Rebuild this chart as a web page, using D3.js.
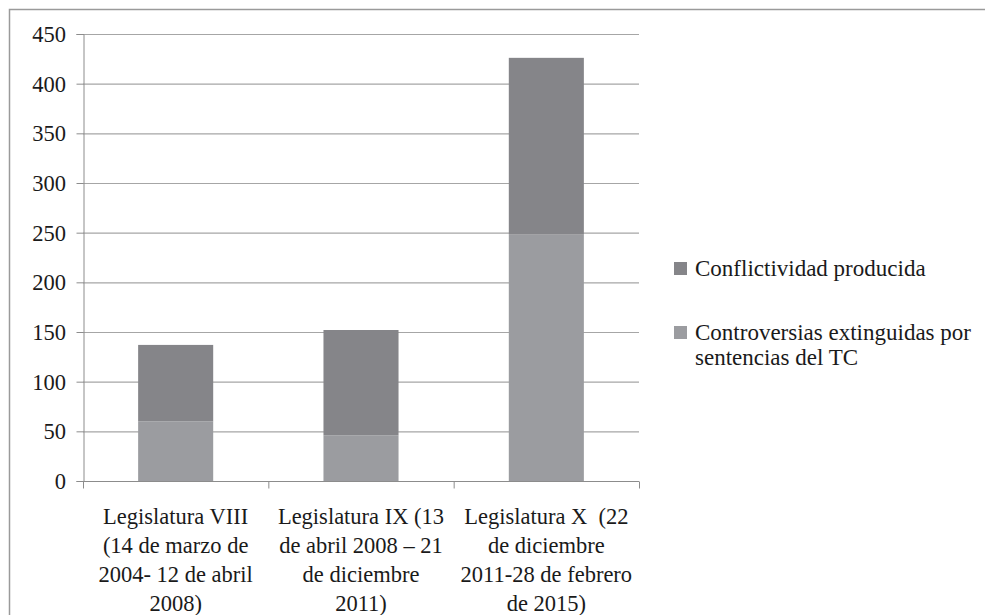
<!DOCTYPE html>
<html>
<head>
<meta charset="utf-8">
<script src="https://cdn.jsdelivr.net/npm/d3@7"></script>
</head>
<body style="margin:0">
<svg id="chart" width="985" height="615"></svg>
<script>
// categories and values (line breaks as in the picture)
const categories = [
    "Legislatura VIII\n(14 de marzo de\n2004- 12 de abril\n2008)",
    "Legislatura IX (13\nde abril 2008 – 21\nde diciembre\n2011)",
    "Legislatura X  (22\nde diciembre\n2011-28 de febrero\nde 2015)"
];
const controversias = [60, 46, 248];   // bottom segment
const conflictividad = [77, 106, 178]; // top segment (totals 137, 152, 426)
const seriesNames = ["Conflictividad producida", "Controversias extinguidas por\nsentencias del TC"];
const yTicks = [0, 50, 100, 150, 200, 250, 300, 350, 400, 450];

const svg = d3.select("#chart");
const margin = {left: 83, top: 34, right: 639, bottom: 481};
const FONT = "Times New Roman";
const TXT = "#1a1a1a";

// outer frame, open on right and bottom
svg.append("rect")
    .attr("x", 9.5).attr("y", 9.5)
    .attr("width", 1000).attr("height", 700)
    .attr("fill", "none").attr("stroke", "#9a9a9a").attr("stroke-width", 1.5);

const x = d3.scaleBand().domain(categories).range([margin.left, margin.right]).paddingInner(0.595).paddingOuter(0.2975);
const y = d3.scaleLinear().domain([0, 450]).range([margin.bottom, margin.top]);

// grid lines
svg.append("g").selectAll("line")
    .data(yTicks)
    .enter()
    .append("line")
    .attr("x1", margin.left).attr("x2", margin.right)
    .attr("y1", d => y(d) + 0.5).attr("y2", d => y(d) + 0.5)
    .attr("stroke", "#a6a6a6").attr("stroke-width", 1.2);

// stacked data
const rows = categories.map((c, i) => ({cat: c, controversias: controversias[i], conflictividad: conflictividad[i]}));
const stack = d3.stack().keys(["controversias", "conflictividad"])(rows);
const colors = {controversias: "#9b9ca0", conflictividad: "#858589"};

svg.append("g").selectAll("g")
    .data(stack)
    .enter()
    .append("g")
    .attr("fill", d => colors[d.key])
    .selectAll("rect")
    .data(d => d)
    .enter()
    .append("rect")
    .attr("x", d => x(d.data.cat))
    .attr("width", x.bandwidth())
    .attr("y", d => y(d[1]))
    .attr("height", d => y(d[0]) - y(d[1]));

// y axis: ticks and domain from d3, labels drawn as plain text
const yAxis = svg.append("g")
    .attr("transform", `translate(${margin.left + 0.5},0)`)
    .call(d3.axisLeft(y).tickValues(yTicks).tickSize(7).tickFormat(""));
yAxis.select(".domain").attr("stroke", "#8c8c8c");
yAxis.selectAll(".tick line").attr("stroke", "#8c8c8c");
yTicks.forEach(v => {
    svg.append("text")
        .attr("x", 66).attr("y", y(v) + 8)
        .attr("text-anchor", "end")
        .attr("font-family", FONT).attr("font-size", 22.5).attr("fill", TXT)
        .text(v);
});

// x axis
const xAxisG = svg.append("g").attr("transform", `translate(0,${margin.bottom + 0.5})`);
xAxisG.append("line")
    .attr("x1", margin.left).attr("x2", margin.right)
    .attr("stroke", "#8c8c8c");
const step = x.step();
xAxisG.selectAll("line.tk")
    .data(d3.range(categories.length + 1))
    .enter()
    .append("line")
    .attr("class", "tk")
    .attr("x1", i => margin.left + 0.5 + i * step).attr("x2", i => margin.left + 0.5 + i * step)
    .attr("y1", 0).attr("y2", 7)
    .attr("stroke", "#8c8c8c");

// category labels, one text per line
categories.forEach(c => {
    c.split("\n").forEach((s, j) => {
        svg.append("text")
            .attr("x", x(c) + x.bandwidth() / 2)
            .attr("y", 524 + j * 29)
            .attr("text-anchor", "middle")
            .attr("font-family", FONT).attr("font-size", 22.5).attr("fill", TXT)
            .text(s.replace("  ", "\u00a0 "));
    });
});

// legend
const legendKeys = ["conflictividad", "controversias"];
const legendY = [262, 326];
legendKeys.forEach((k, i) => {
    svg.append("rect")
        .attr("x", 674).attr("y", legendY[i])
        .attr("width", 13).attr("height", 13)
        .attr("fill", colors[k]);
    seriesNames[i].split("\n").forEach((s, j) => {
        svg.append("text")
            .attr("x", 695).attr("y", legendY[i] + 14 + j * 25)
            .attr("font-family", FONT).attr("font-size", 23).attr("fill", TXT)
            .text(s);
    });
});
</script>
</body>
</html>
